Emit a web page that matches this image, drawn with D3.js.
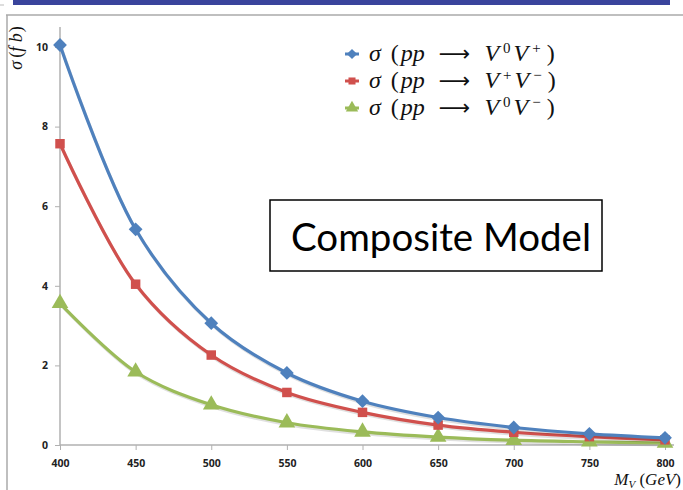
<!DOCTYPE html>
<html><head><meta charset="utf-8">
<script src="https://cdn.jsdelivr.net/npm/d3@7"></script>
<style>html,body{margin:0;padding:0;background:#fff;overflow:hidden}</style>
</head><body>
<svg id="c" width="683" height="490"></svg>
<script>
const masses = [400, 450, 500, 550, 600, 650, 700, 750, 800];
const sigmaV0Vp = [10.05, 5.42, 3.06, 1.81, 1.10, 0.69, 0.44, 0.28, 0.18];
const sigmaVpVm = [7.57, 4.04, 2.26, 1.32, 0.82, 0.50, 0.32, 0.21, 0.13];
const sigmaV0Vm = [3.56, 1.84, 1.01, 0.56, 0.33, 0.20, 0.12, 0.08, 0.05];
const yTicks = [0, 2, 4, 6, 8, 10];

const svg = d3.select("#c");
const x = d3.scaleLinear().domain([400, 800]).range([60, 665]);
const y = d3.scaleLinear().domain([0, 10]).range([445, 47]);

// slide decorations
svg.append("rect").attr("x", 13).attr("y", 0).attr("width", 657).attr("height", 5).attr("fill", "#3a449c");
svg.append("line").attr("x1", 6).attr("x2", 683).attr("y1", 15).attr("y2", 15).attr("stroke", "#aaa").attr("stroke-width", 1.5);
svg.append("line").attr("x1", 7).attr("x2", 7).attr("y1", 15).attr("y2", 490).attr("stroke", "#aaa").attr("stroke-width", 1.5);
svg.append("line").attr("x1", 0).attr("x2", 4).attr("y1", 5).attr("y2", 5).attr("stroke", "#bbb");

// axes
const yAxis = d3.axisLeft(y).tickValues(yTicks).tickSize(5).tickPadding(7);
const gy = svg.append("g").attr("transform", "translate(60,0)").call(yAxis);
gy.select(".domain").remove();
gy.append("line").attr("x1", 0).attr("x2", 0).attr("y1", 27).attr("y2", 445).attr("stroke", "#b0b0b0").attr("stroke-width", 1.5);
gy.selectAll(".tick line").attr("stroke", "#b0b0b0");
gy.selectAll(".tick text").attr("font-family", "'Open Sans', sans-serif").attr("font-weight", "bold").attr("font-size", 10.5).attr("fill", "#222");

const xAxis = d3.axisBottom(x).tickValues(masses).tickSize(5).tickPadding(10);
const gx = svg.append("g").attr("transform", "translate(0,445)").call(xAxis);
gx.select(".domain").remove();
gx.append("line").attr("x1", 60).attr("x2", 674).attr("y1", 0).attr("y2", 0).attr("stroke", "#b0b0b0").attr("stroke-width", 1.5);
gx.selectAll(".tick line").attr("stroke", "#b0b0b0");
gx.selectAll(".tick text").attr("font-family", "'Open Sans', sans-serif").attr("font-weight", "bold").attr("font-size", 10.5).attr("fill", "#222");

// series
const series = [
  {vals: sigmaV0Vp, color: "#4f81bd", sym: d3.symbolSquare, rot: 45, size: 95, label: ["0", "+"]},
  {vals: sigmaVpVm, color: "#d0504d", sym: d3.symbolSquare, rot: 0, size: 90, label: ["+", "\u2212"]},
  {vals: sigmaV0Vm, color: "#9bbb59", sym: d3.symbolTriangle, rot: 0, size: 120, label: ["0", "\u2212"]}
];
const line = d3.line().x((d, i) => x(masses[i])).y(d => y(d)).curve(d3.curveCatmullRom.alpha(0.5));
series.slice().reverse().forEach(s => {
  svg.append("path").attr("d", line(s.vals)).attr("fill", "none").attr("stroke", "#000").attr("stroke-opacity", 0.12)
    .attr("stroke-width", 3).attr("transform", "translate(1,2)");
  svg.append("path").attr("d", line(s.vals)).attr("fill", "none").attr("stroke", s.color).attr("stroke-width", 3.2);
  svg.selectAll(null).data(s.vals).enter().append("path")
    .attr("d", d3.symbol().type(s.sym).size(s.size))
    .attr("transform", (d, i) => `translate(${x(masses[i])},${y(d)}) rotate(${s.rot})`)
    .attr("fill", s.color);
});

// legend
const legY = [61, 88, 115];
series.forEach((s, i) => {
  const g = svg.append("g").attr("transform", `translate(352,${legY[i] - 7})`);
  g.append("line").attr("x1", -7).attr("x2", 7).attr("stroke", s.color).attr("stroke-width", 3);
  g.append("path").attr("d", d3.symbol().type(s.sym).size(s.size * 0.55)).attr("transform", `rotate(${s.rot})`).attr("fill", s.color);
  const t = svg.append("text").attr("x", 369).attr("y", legY[i]).attr("font-family", "'Liberation Serif', 'DejaVu Serif', serif").attr("font-size", 24).attr("fill", "#111");
  t.append("tspan").attr("font-style", "italic").text("\u03c3");
  t.append("tspan").attr("dx", 10).text("(");
  t.append("tspan").attr("dx", 2).attr("font-style", "italic").text("pp");
  t.append("tspan").attr("dx", 14).attr("font-family", "'DejaVu Sans', sans-serif").attr("font-size", 22).text("\u27f6");
  t.append("tspan").attr("dx", 14).attr("font-style", "italic").text("V");
  t.append("tspan").attr("font-size", 15).attr("dx", 4).attr("dy", -8).text(s.label[0]);
  t.append("tspan").attr("font-style", "italic").attr("dx", 3).attr("dy", 8).text("V");
  t.append("tspan").attr("font-size", 15).attr("dx", 4).attr("dy", -8).text(s.label[1]);
  t.append("tspan").attr("dx", 6).attr("dy", 8).text(")");
});

// axis titles
const yt = svg.append("text").attr("transform", "translate(22,48) rotate(-90)").attr("text-anchor", "middle")
  .attr("font-family", "'Liberation Serif', serif").attr("font-size", 18).attr("fill", "#111");
yt.append("tspan").attr("font-style", "italic").text("\u03c3");
yt.append("tspan").attr("dx", 3).text("(");
yt.append("tspan").attr("font-style", "italic").text("f b");
yt.append("tspan").attr("dx", 1).text(")");

const xt = svg.append("text").attr("x", 681).attr("y", 485).attr("text-anchor", "end")
  .attr("font-family", "'Liberation Serif', serif").attr("font-size", 17).attr("fill", "#111");
xt.append("tspan").attr("font-style", "italic").text("M");
xt.append("tspan").attr("font-style", "italic").attr("font-size", 11).attr("dy", 3).text("V");
xt.append("tspan").attr("dy", -3).text(" (");
xt.append("tspan").attr("font-style", "italic").text("GeV");
xt.append("tspan").text(")");

// annotation box
svg.append("rect").attr("x", 270).attr("y", 200).attr("width", 332).attr("height", 71).attr("fill", "#fff").attr("stroke", "#000").attr("stroke-width", 1.5);
svg.append("text").attr("x", 441).attr("y", 251).attr("text-anchor", "middle").attr("font-family", "Lato, 'Open Sans', sans-serif")
  .attr("font-size", 38.5).attr("fill", "#000").text("Composite Model");
</script>
</body></html>
